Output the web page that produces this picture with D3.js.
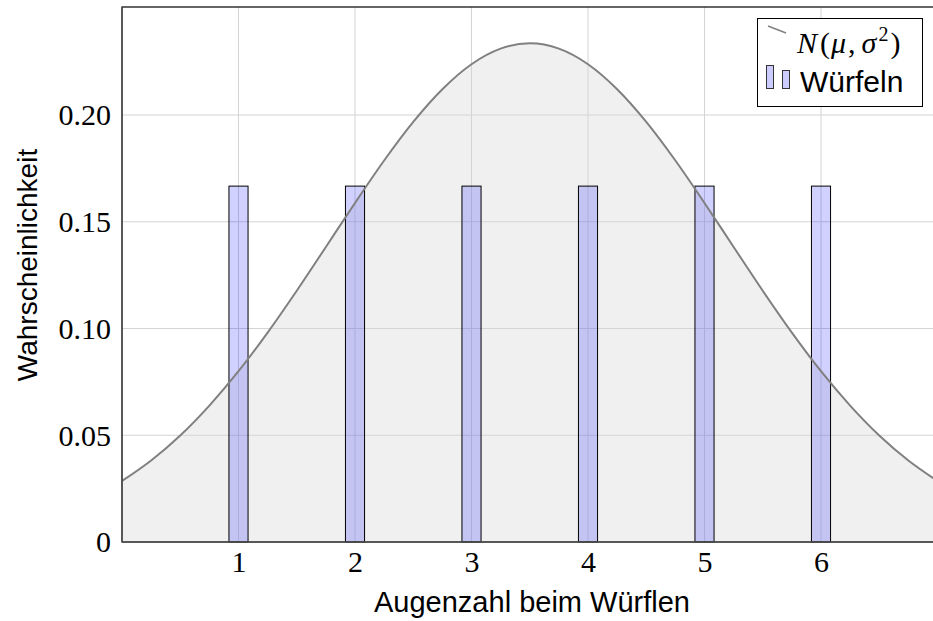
<!DOCTYPE html>
<html><head><meta charset="utf-8">
<script src="https://cdn.jsdelivr.net/npm/d3@7"></script>
<style>body{margin:0;background:#fff;}svg{display:block;}</style>
</head><body>
<svg id="c" width="933" height="621"></svg>
<script>
const faces = [1, 2, 3, 4, 5, 6];
const faceProb = [0.1667, 0.1667, 0.1667, 0.1667, 0.1667, 0.1667];
const curveX = [0,0.25,0.5,0.75,1,1.25,1.5,1.75,2,2.25,2.5,2.75,3,3.25,3.5,3.75,4,4.25,4.5,4.75,5,5.25,5.5,5.75,6,6.25,6.5,6.75,7];
const curveY = [0.0286,0.0382,0.0499,0.0639,0.0800,0.0981,0.1177,0.1382,0.1588,0.1787,0.1968,0.2121,0.2238,0.2311,0.2336,0.2311,0.2238,0.2121,0.1968,0.1787,0.1588,0.1382,0.1177,0.0981,0.0800,0.0639,0.0499,0.0382,0.0286];
const xTicks = [1, 2, 3, 4, 5, 6];
const yTicks = [0, 0.05, 0.10, 0.15, 0.20];
const yTickLabels = ["0", "0.05", "0.10", "0.15", "0.20"];

(function () {
const svg = d3.select("#c");
const pL = 122, pT = 7, pB = 542, pR = 937.5;
const x = d3.scaleLinear().domain([0, 7]).range([pL, pR]);
const y = d3.scaleLinear().domain([0, 0.2506]).range([pB, pT]);
const serif = "'Liberation Serif', serif";
const sans = "'Liberation Sans', Arial, sans-serif";

const pts = curveX.map((v, i) => [v, curveY[i]]);
svg.append("path").datum(pts)
  .attr("d", d3.area().x(d => x(d[0])).y0(y(0)).y1(d => y(d[1])).curve(d3.curveMonotoneX))
  .attr("fill", "#f0f0f0");

svg.append("g").selectAll("line").data(xTicks).join("line")
  .attr("x1", d => x(d)).attr("x2", d => x(d)).attr("y1", pT).attr("y2", pB)
  .attr("stroke", "#d4d4d4").attr("stroke-width", 1);
svg.append("g").selectAll("line").data(yTicks.slice(1)).join("line")
  .attr("x1", pL).attr("x2", 933).attr("y1", d => y(d)).attr("y2", d => y(d))
  .attr("stroke", "#d4d4d4").attr("stroke-width", 1);

const bw = x(0.082) - x(0);
svg.append("g").selectAll("rect").data(faces).join("rect")
  .attr("x", d => x(d) - bw)
  .attr("width", 2 * bw)
  .attr("y", (d, i) => y(faceProb[i]))
  .attr("height", (d, i) => y(0) - y(faceProb[i]))
  .attr("fill", "rgba(0,0,255,0.18)").attr("stroke", "#000").attr("stroke-width", 1);

svg.append("path").datum(pts)
  .attr("d", d3.line().x(d => x(d[0])).y(d => y(d[1])).curve(d3.curveMonotoneX))
  .attr("fill", "none").attr("stroke", "#808080").attr("stroke-width", 2);

svg.append("rect").attr("x", pL).attr("y", pT).attr("width", pR - pL).attr("height", pB - pT)
  .attr("fill", "none").attr("stroke", "#000").attr("stroke-width", 1.2);
svg.append("line").attr("x1", pL).attr("x2", 933).attr("y1", pB).attr("y2", pB)
  .attr("stroke", "#555").attr("stroke-width", 1.5);
svg.append("line").attr("x1", pL).attr("x2", pL).attr("y1", pT).attr("y2", pB)
  .attr("stroke", "#555").attr("stroke-width", 1.5);

const xAxis = svg.append("g").attr("transform", `translate(0,${pB})`)
  .call(d3.axisBottom(x).tickValues(xTicks).tickSize(0).tickPadding(12).tickFormat(d3.format("d")));
xAxis.select(".domain").remove();
xAxis.selectAll("text").attr("font-family", serif).attr("font-size", 30).attr("fill", "#000")
  .attr("y", 30).attr("dy", 0);

const yAxis = svg.append("g").attr("transform", `translate(${pL},0)`)
  .call(d3.axisLeft(y).tickValues(yTicks).tickSize(0).tickPadding(11).tickFormat((d, i) => yTickLabels[i]));
yAxis.select(".domain").remove();
yAxis.selectAll("text").attr("font-family", serif).attr("font-size", 30).attr("fill", "#000").attr("dy", "0.33em");

svg.append("text").attr("x", 532).attr("y", 612).attr("text-anchor", "middle")
  .attr("font-family", sans).attr("font-size", 29).text("Augenzahl beim Würflen");
svg.append("text").attr("transform", "translate(37,265) rotate(-90)").attr("text-anchor", "middle")
  .attr("font-family", sans).attr("font-size", 28).text("Wahrscheinlichkeit");

const lg = svg.append("g");
lg.append("rect").attr("x", 757.5).attr("y", 18.5).attr("width", 165).attr("height", 88)
  .attr("fill", "#fff").attr("stroke", "#000").attr("stroke-width", 1);
lg.append("line").attr("x1", 768).attr("y1", 26).attr("x2", 786).attr("y2", 33)
  .attr("stroke", "#808080").attr("stroke-width", 1.5);
const nt = lg.append("text").attr("x", 797).attr("y", 53).attr("font-family", serif).attr("font-size", 30);
nt.append("tspan").attr("font-style", "italic").text("N");
nt.append("tspan").attr("dx", 3).text("(");
nt.append("tspan").attr("dx", 1).attr("font-style", "italic").text("μ");
nt.append("tspan").attr("dx", 2).text(",");
nt.append("tspan").attr("dx", 6).attr("font-style", "italic").text("σ");
nt.append("tspan").attr("dx", 2).attr("font-size", 20).attr("dy", -12).text("2");
nt.append("tspan").attr("dx", 2).attr("dy", 12).text(")");
lg.append("rect").attr("x", 766.5).attr("y", 65.5).attr("width", 7).attr("height", 23)
  .attr("fill", "#ccccff").attr("stroke", "#333");
lg.append("rect").attr("x", 782.5).attr("y", 70.5).attr("width", 7).attr("height", 18)
  .attr("fill", "#ccccff").attr("stroke", "#333");
lg.append("text").attr("x", 800).attr("y", 92).attr("font-family", sans).attr("font-size", 30).text("Würfeln");
})();
</script>
</body></html>
